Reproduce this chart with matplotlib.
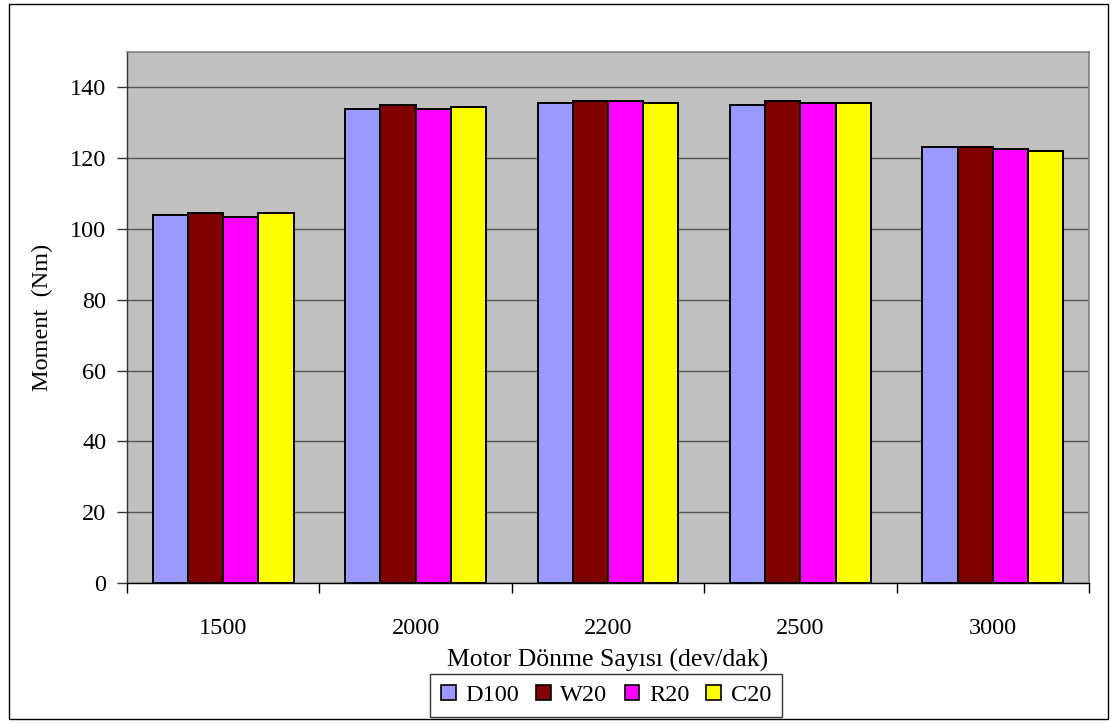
import matplotlib
matplotlib.use("Agg")
import matplotlib.pyplot as plt
from matplotlib.patches import Rectangle, Patch
import numpy as np

plt.rcParams['font.family'] = ['Liberation Serif', 'DejaVu Serif']

categories = ['1500', '2000', '2200', '2500', '3000']
series_names = ['D100', 'W20', 'R20', 'C20']
d100 = [104.0, 133.9, 135.7, 135.0, 123.1]
w20 = [104.5, 135.0, 136.1, 136.1, 123.1]
r20 = [103.3, 133.8, 136.1, 135.5, 122.5]
c20 = [104.5, 134.4, 135.6, 135.6, 121.9]
colors = ['#9999FF', '#800000', '#FF00FF', '#FFFF00']
y_ticks = [0, 20, 40, 60, 80, 100, 120, 140]

FS = 17.5
W, H = 1118, 723
fig = plt.figure(figsize=(W / 100, H / 100), dpi=100)
fig.patch.set_facecolor('white')

# outer chart border
fig.patches.append(Rectangle((9 / W, 4 / H), (1108 - 9) / W, (719 - 4) / H,
                             transform=fig.transFigure, fill=False,
                             edgecolor='black', linewidth=1.0))

ax = fig.add_axes([127 / W, (H - 583) / H, (1089 - 127) / W, (583 - 52) / H])
ax.set_facecolor('#C0C0C0')

x = np.arange(len(categories))
bw = 0.183
all_series = [d100, w20, r20, c20]
for i, (vals, col, name) in enumerate(zip(all_series, colors, series_names)):
    ax.bar(x + (i - 1.5) * bw, vals, width=bw, color=col, edgecolor='black',
           linewidth=1.4, label=name, zorder=3)

ax.set_xlim(-0.5, len(categories) - 0.5)
ax.set_ylim(0, 150)
ax.set_yticks(y_ticks)
ax.yaxis.grid(True, color='#555555', linewidth=1.0, zorder=1)
ax.set_axisbelow(True)

ax.set_xticks(x)
ax.set_xticklabels(categories, fontsize=FS)
ax.set_xticks(np.arange(len(categories) + 1) - 0.5, minor=True)
ax.tick_params(axis='x', which='major', length=0, pad=25)
ax.tick_params(axis='x', which='minor', length=7, direction='out', color='black', width=1)
ax.tick_params(axis='y', which='major', length=7, direction='out', color='#333333',
               width=1, labelsize=FS, pad=8)

for s in ['top', 'right']:
    ax.spines[s].set_color('#808080')
    ax.spines[s].set_linewidth(1.2)
ax.spines['left'].set_color('#333333')
ax.spines['bottom'].set_color('black')
for s in ['left', 'bottom']:
    ax.spines[s].set_linewidth(1.0)

ax.set_xlabel('Motor Dönme Sayısı (dev/dak)', fontsize=18.5, labelpad=7)
ax.set_ylabel('Moment  (Nm)', fontsize=FS, labelpad=12)

handles = [Patch(facecolor=c, edgecolor='black', linewidth=1.2) for c in colors]
leg = fig.legend(handles, series_names, loc='center',
                 bbox_to_anchor=(606 / W, (H - 695.5) / H), ncol=4,
                 fontsize=FS, frameon=True, fancybox=False, edgecolor='black',
                 handlelength=0.6, handleheight=0.6, handletextpad=0.4,
                 columnspacing=0.7, borderpad=0.45, borderaxespad=0)
leg.get_frame().set_linewidth(1.0)

fig.savefig('out.png', dpi=100)
